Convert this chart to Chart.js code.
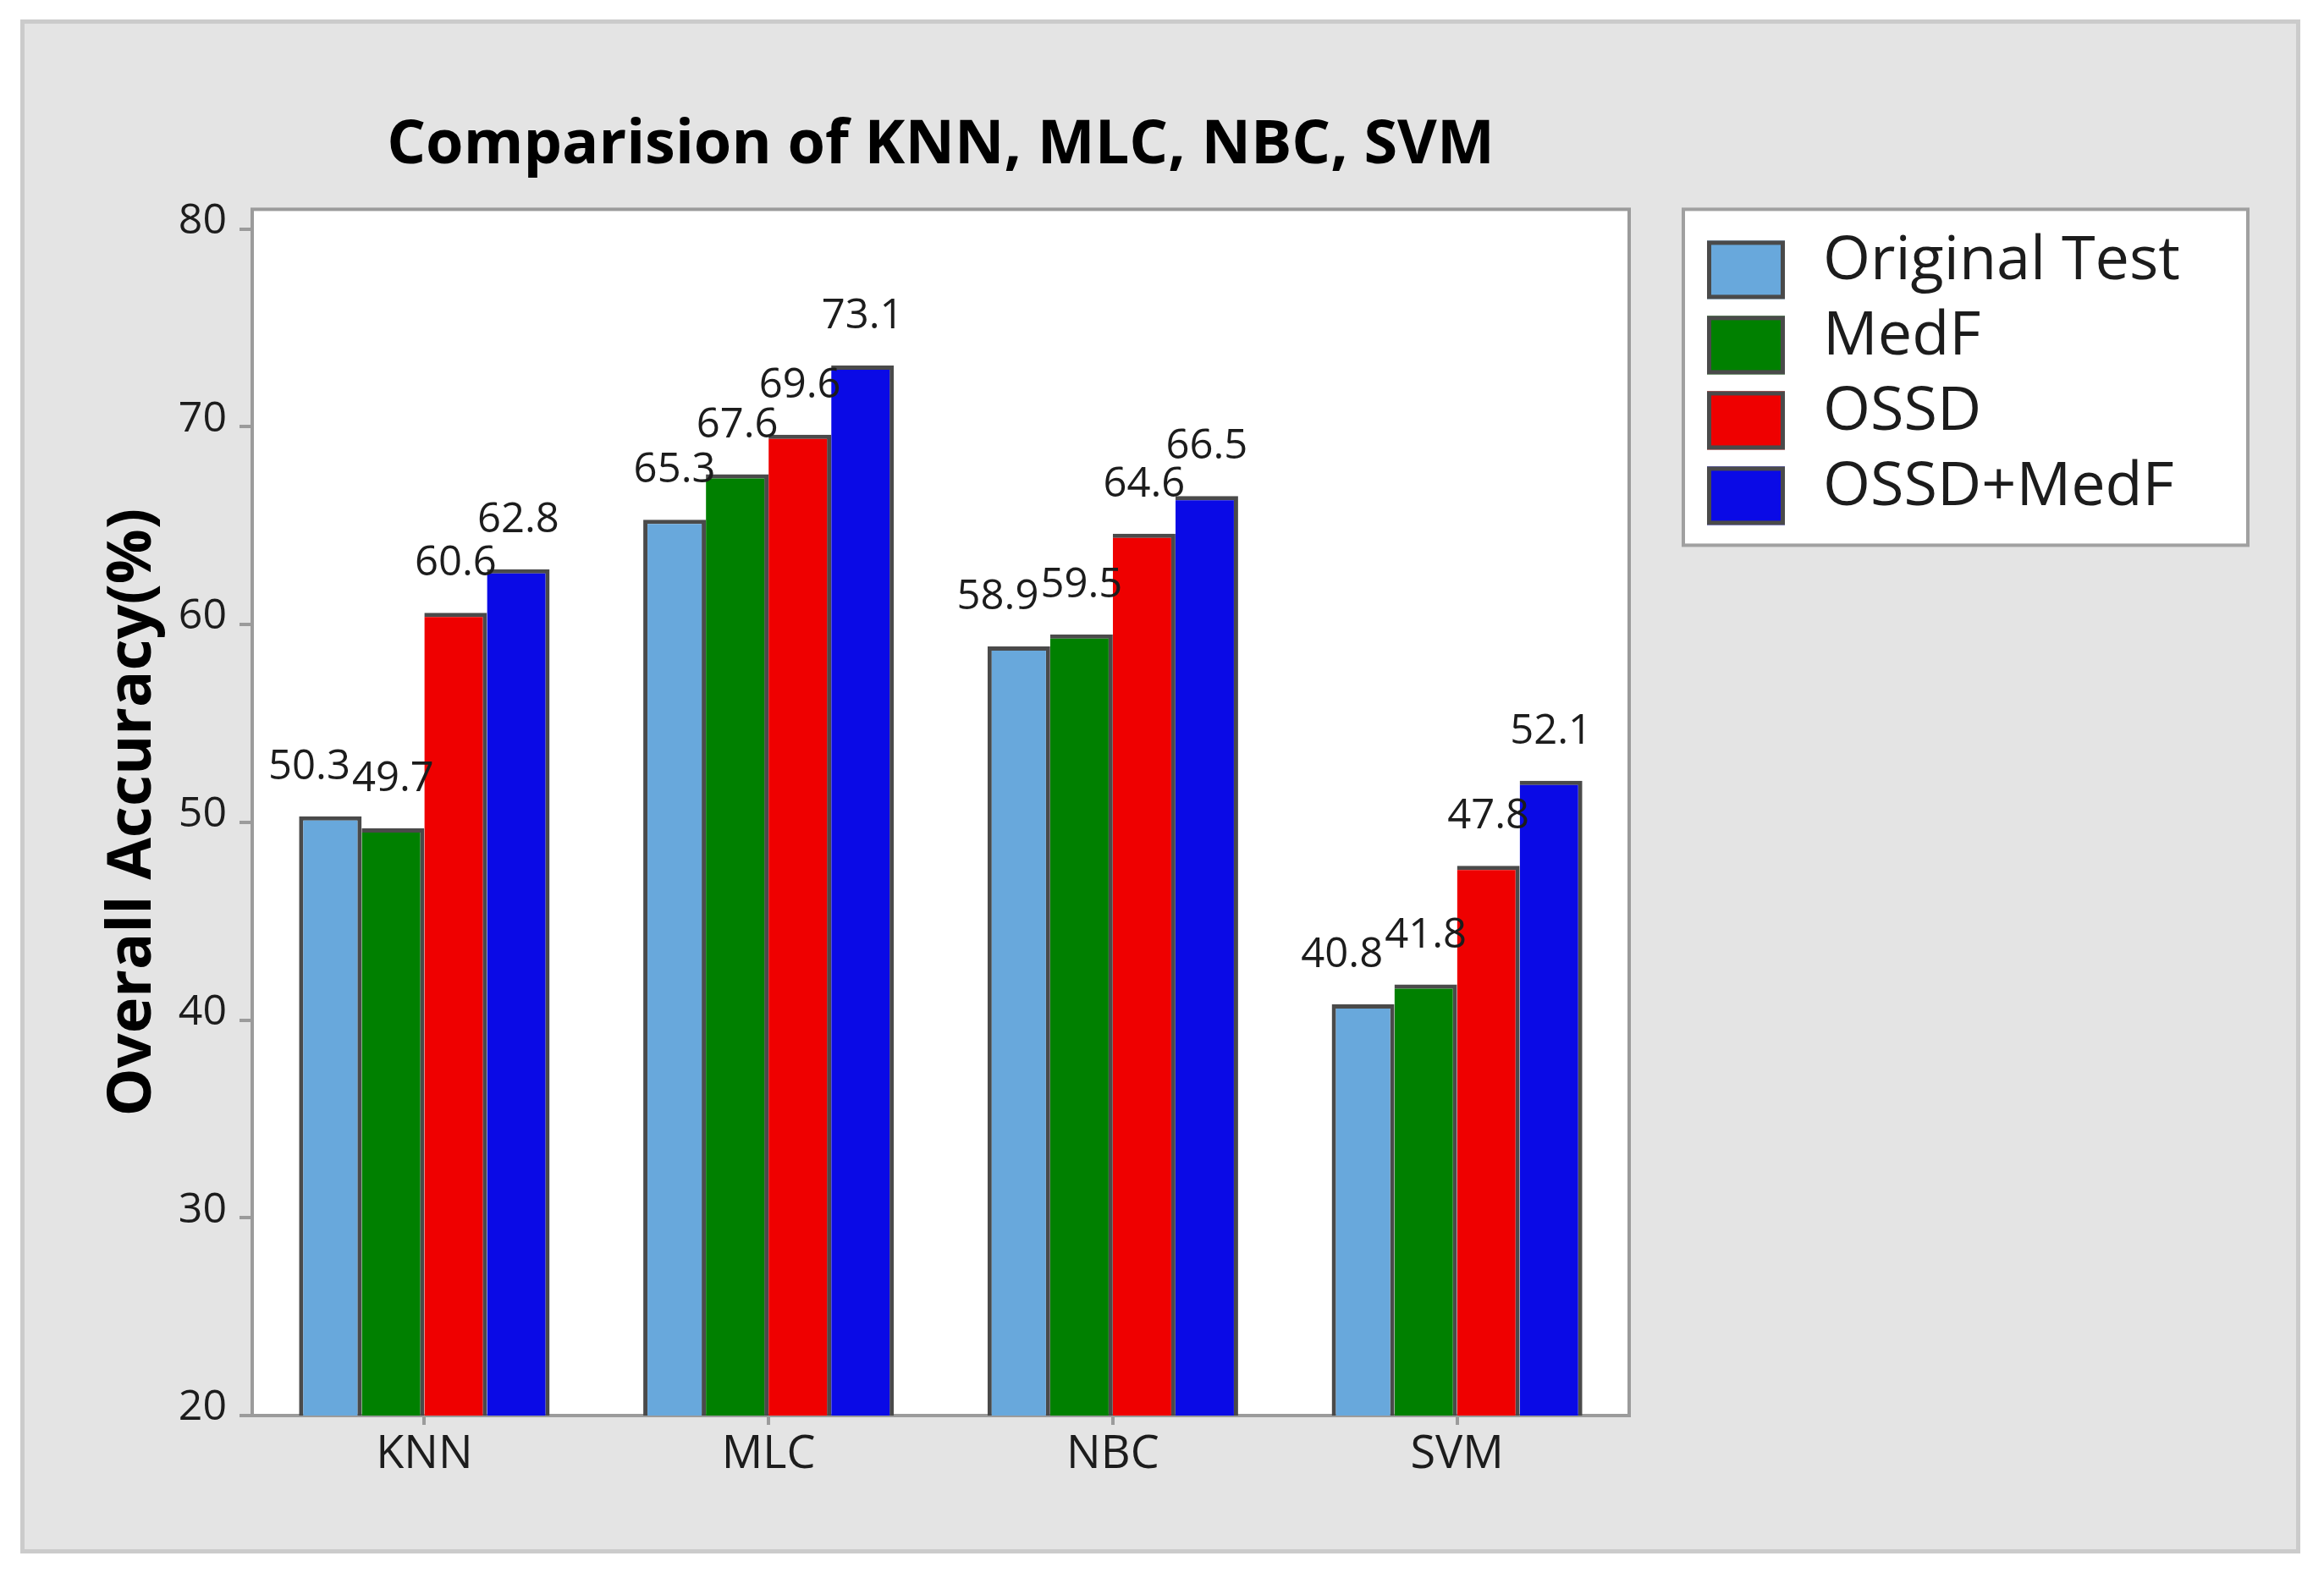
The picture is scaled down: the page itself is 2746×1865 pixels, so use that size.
<!DOCTYPE html>
<html>
<head>
<meta charset="utf-8">
<script src="https://cdn.jsdelivr.net/npm/chart.js@4.4.1/dist/chart.umd.min.js"></script>
<style>
  html, body { margin: 0; padding: 0; background: #ffffff; }
  canvas { display: block; }
</style>
</head>
<body>
<canvas id="c" width="2746" height="1865" style="width:2746px;height:1865px"></canvas>
<script>
// ---- data ----
const categories = ['KNN', 'MLC', 'NBC', 'SVM'];
const seriesNames = ['Original Test', 'MedF', 'OSSD', 'OSSD+MedF'];
const originalTest = [50.3, 65.3, 58.9, 40.8];
const medF = [49.7, 67.6, 59.5, 41.8];
const ossd = [60.6, 69.6, 64.6, 47.8];
const ossdMedF = [62.8, 73.1, 66.5, 52.1];
const yTicks = [20, 30, 40, 50, 60, 70, 80];
const seriesColors = ['#68a8dc', '#008000', '#ef0000', '#0a0ae6'];

const FAMILY = "'Open Sans', 'Noto Sans', sans-serif";
const TEXT = '#1c1c1c';

const panelPlugin = {
  id: 'panel',
  beforeDraw(chart) {
    const { ctx, width, height, chartArea: a } = chart;
    ctx.save();
    ctx.fillStyle = '#ffffff';
    ctx.fillRect(0, 0, width, height);
    ctx.fillStyle = '#e4e4e4';
    ctx.fillRect(26, 25, 2690, 1809);
    ctx.strokeStyle = '#cbcbcb';
    ctx.lineWidth = 5;
    ctx.strokeRect(26.5, 25.5, 2689, 1808);
    ctx.fillStyle = '#ffffff';
    ctx.fillRect(a.left, a.top, a.right - a.left, a.bottom - a.top);
    ctx.restore();
  },
  beforeDatasetsDraw(chart) {
    const { ctx, chartArea: a } = chart;
    ctx.save();
    ctx.strokeStyle = '#9b9b9b';
    ctx.lineWidth = 4;
    ctx.strokeRect(a.left, a.top, a.right - a.left, a.bottom - a.top);
    ctx.restore();
  }
};

// value labels above bars; a label that collides with its right neighbour is nudged left
const valueLabelPlugin = {
  id: 'valueLabels',
  afterDatasetsDraw(chart) {
    const ctx = chart.ctx;
    ctx.save();
    ctx.font = '49px ' + FAMILY;
    ctx.fillStyle = TEXT;
    ctx.textAlign = 'center';
    ctx.textBaseline = 'alphabetic';
    const nSeries = chart.data.datasets.length;
    const textH = 36;
    chart.data.labels.forEach((_, j) => {
      const items = [];
      for (let i = 0; i < nSeries; i++) {
        const bar = chart.getDatasetMeta(i).data[j];
        const txt = chart.data.datasets[i].data[j].toFixed(1);
        items.push({ txt, x: bar.x, y: bar.y - 44, w: ctx.measureText(txt).width });
      }
      for (let i = items.length - 2; i >= 0; i--) {
        const a = items[i], b = items[i + 1];
        const vOverlap = Math.abs(a.y - b.y) < textH;
        const hOverlap = (a.x + a.w / 2) - (b.x - b.w / 2);
        if (vOverlap && hOverlap > 0) a.x -= hOverlap + 2;
      }
      items.forEach(it => ctx.fillText(it.txt, it.x, it.y));
    });
    ctx.restore();
  }
};

const boxLegendPlugin = {
  id: 'boxLegend',
  afterDraw(chart) {
    const { ctx, chartArea: a } = chart;
    const left = a.right + 64, top = a.top, w = 667, h = 397;
    ctx.save();
    ctx.fillStyle = '#ffffff';
    ctx.fillRect(left, top, w, h);
    ctx.strokeStyle = '#a0a0a0';
    ctx.lineWidth = 4;
    ctx.strokeRect(left, top, w, h);
    ctx.font = '72px ' + FAMILY;
    ctx.textAlign = 'left';
    ctx.textBaseline = 'alphabetic';
    chart.data.datasets.forEach((ds, i) => {
      const by = top + 37 + i * 89;
      const bx = left + 28;
      ctx.fillStyle = ds.backgroundColor;
      ctx.fillRect(bx, by, 92, 69);
      ctx.strokeStyle = '#4a4a4a';
      ctx.lineWidth = 5;
      ctx.strokeRect(bx + 2.5, by + 2.5, 87, 64);
      ctx.fillStyle = TEXT;
      ctx.fillText(ds.label, left + 165, by + 46);
    });
    ctx.restore();
  }
};

const seriesData = [originalTest, medF, ossd, ossdMedF];

function build() {
  new Chart(document.getElementById('c'), {
    type: 'bar',
    data: {
      labels: categories,
      datasets: seriesNames.map((name, i) => ({
        label: name,
        data: seriesData[i],
        backgroundColor: seriesColors[i],
        borderColor: '#4a4a4a',
        borderWidth: i === 0 ? 5 : { top: 5, right: 5, bottom: 5, left: 0 },
        borderSkipped: false,
        categoryPercentage: 0.728,
        barPercentage: 1.0
      }))
    },
    options: {
      responsive: false,
      devicePixelRatio: 1,
      animation: false,
      events: [],
      layout: { padding: { left: 0, right: 821, top: 0, bottom: 0 } },
      plugins: {
        legend: { display: false },
        tooltip: { enabled: false },
        title: {
          display: true,
          text: 'Comparision of KNN, MLC, NBC, SVM',
          fullSize: false,
          color: '#000000',
          font: { family: FAMILY, size: 72, weight: 'bold' },
          padding: { top: 129, bottom: 32 }
        }
      },
      scales: {
        x: {
          grid: { offset: false, drawOnChartArea: false, drawTicks: true, tickLength: 11, color: '#9b9b9b', lineWidth: 4 },
          border: { display: false },
          ticks: { padding: 3, color: TEXT, font: { family: FAMILY, size: 54 } },
          afterFit: (s) => { s.height = 192; }
        },
        y: {
          min: 20,
          max: 81,
          afterBuildTicks: (s) => { s.ticks = yTicks.map(v => ({ value: v })); },
          afterFit: (s) => { s.width = 298; },
          grid: { display: true, drawOnChartArea: false, drawTicks: true, tickLength: 15, color: '#9b9b9b', lineWidth: 4 },
          border: { display: false },
          ticks: { padding: 15, labelOffset: -9, color: TEXT, font: { family: FAMILY, size: 50 } },
          title: {
            display: true,
            text: 'Overall Accuracy(%)',
            color: '#000000',
            font: { family: FAMILY, size: 72, weight: 'bold' },
            padding: { top: 114, bottom: 0 }
          }
        }
      }
    },
    plugins: [panelPlugin, valueLabelPlugin, boxLegendPlugin]
  });
}

Promise.all([
  document.fonts.load("72px 'Open Sans'"),
  document.fonts.load("bold 72px 'Open Sans'")
]).then(build, build);
</script>
</body>
</html>
